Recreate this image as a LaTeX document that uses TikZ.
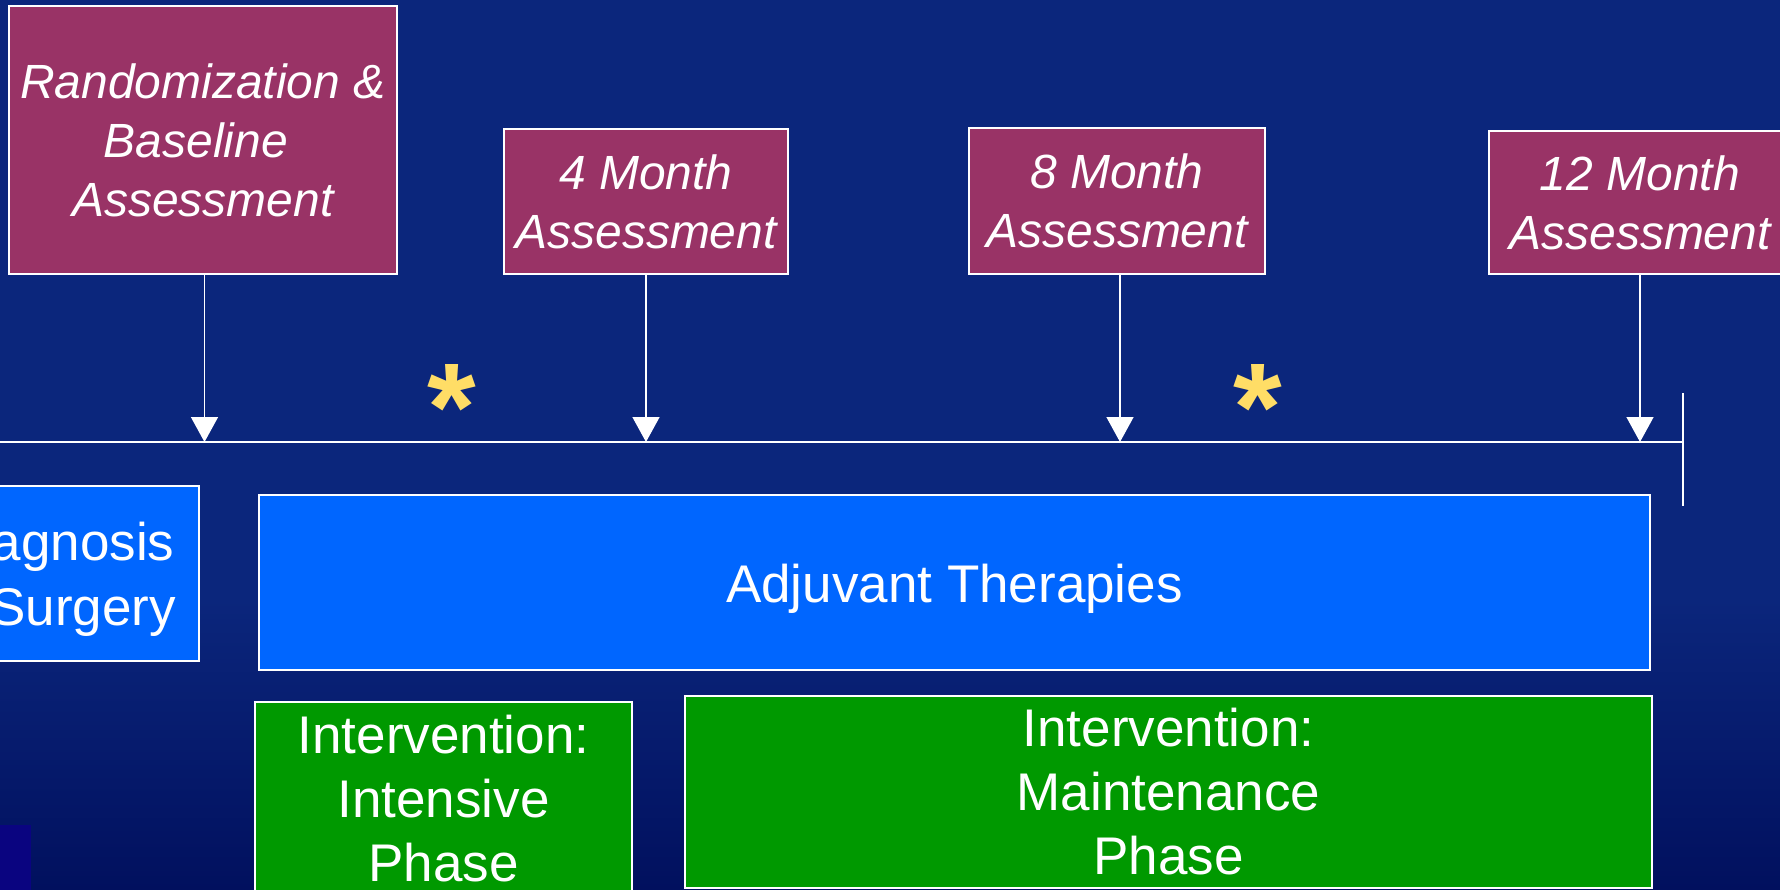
\documentclass[tikz,border=0pt]{standalone}
\usepackage{fontspec}
\setmainfont{Liberation Sans}
\usetikzlibrary{arrows.meta}
\definecolor{bgtop}{RGB}{11,38,124}
\definecolor{bgbot}{RGB}{1,16,94}
\definecolor{assess}{RGB}{153,51,102}
\definecolor{phase}{RGB}{0,102,255}
\definecolor{interv}{RGB}{0,153,0}
\definecolor{staryellow}{RGB}{255,221,102}
\definecolor{cornerblue}{RGB}{10,4,128}
\tikzset{
  box/.style={draw=white, line width=2pt, inner sep=0pt, align=center, text=white},
  assessbox/.style={box, fill=assess, font=\fontsize{48}{59}\selectfont\itshape},
  phasebox/.style={box, fill=phase, font=\fontsize{53}{65}\selectfont},
  intbox/.style={box, fill=interv, font=\fontsize{53}{64}\selectfont},
  tline/.style={draw=white, line width=2pt},
  arr/.style={draw=white, line width=1.5pt, -{Triangle[width=27pt,length=25pt]}},
  starmark/.style={text=staryellow, inner sep=0pt, anchor=base, font=\fontsize{125}{125}\selectfont\bfseries}
}
\begin{document}
\begin{tikzpicture}[x=1pt,y=-1pt]
\useasboundingbox (0,0) rectangle (1780,890);
\clip (0,0) rectangle (1780,890);
\fill[bgtop] (0,0) rectangle (1780,600);
\shade[top color=bgtop, bottom color=bgbot] (0,599) rectangle (1780,890);
\fill[cornerblue] (0,825) rectangle (31,890);

% assessment boxes
\node[assessbox, minimum width=388pt, minimum height=268pt] (base) at (203,140)
  {Randomization \&\\Baseline\kern14pt\\Assessment};
\node[assessbox, minimum width=284pt, minimum height=145pt] (m4) at (646,201.5)
  {4 Month\\Assessment};
\node[assessbox, minimum width=296pt, minimum height=146pt] (m8) at (1117,201)
  {8 Month\\Assessment};
\node[assessbox, minimum width=302pt, minimum height=143pt] (m12) at (1640,202.5)
  {12 Month\\Assessment};

% timeline
\coordinate (tlL) at (-10,442);
\coordinate (tlR) at (1683,442);
\coordinate (tkT) at (1683,393);
\coordinate (tkB) at (1683,506);
\draw[tline] (tlL) -- (tlR);
\draw[tline] (tkT) -- (tkB);

% arrows
\draw[arr] ([xshift=1.5pt]base.south) -- ([xshift=1.5pt]base.south |- tlR);
\draw[arr] (m4.south) -- (m4.south |- tlR);
\draw[arr] ([xshift=3pt]m8.south) -- ([xshift=3pt]m8.south |- tlR);
\draw[arr] (m12.south) -- (m12.south |- tlR);

% stars
\node[starmark] (s1) at (452,450) {*};
\node[starmark] (s2) at (1258,450) {*};

% phase boxes
\node[phasebox, minimum width=282pt, minimum height=175pt] (diag) at (58,573.5)
  {\rule{0pt}{50pt}Diagnosis\\\& Surgery};
\node[phasebox, minimum width=1391pt, minimum height=175pt] (adj) at (954.5,582.5)
  {\rule{0pt}{50pt}Adjuvant Therapies};

% intervention boxes
\node[intbox, minimum width=377pt, minimum height=194pt] (int) at (443.5,799)
  {Intervention:\\Intensive\\Phase};
\node[intbox, minimum width=967pt, minimum height=192pt] (maint) at (1168.5,792)
  {Intervention:\\Maintenance\\Phase};
\end{tikzpicture}
\end{document}
